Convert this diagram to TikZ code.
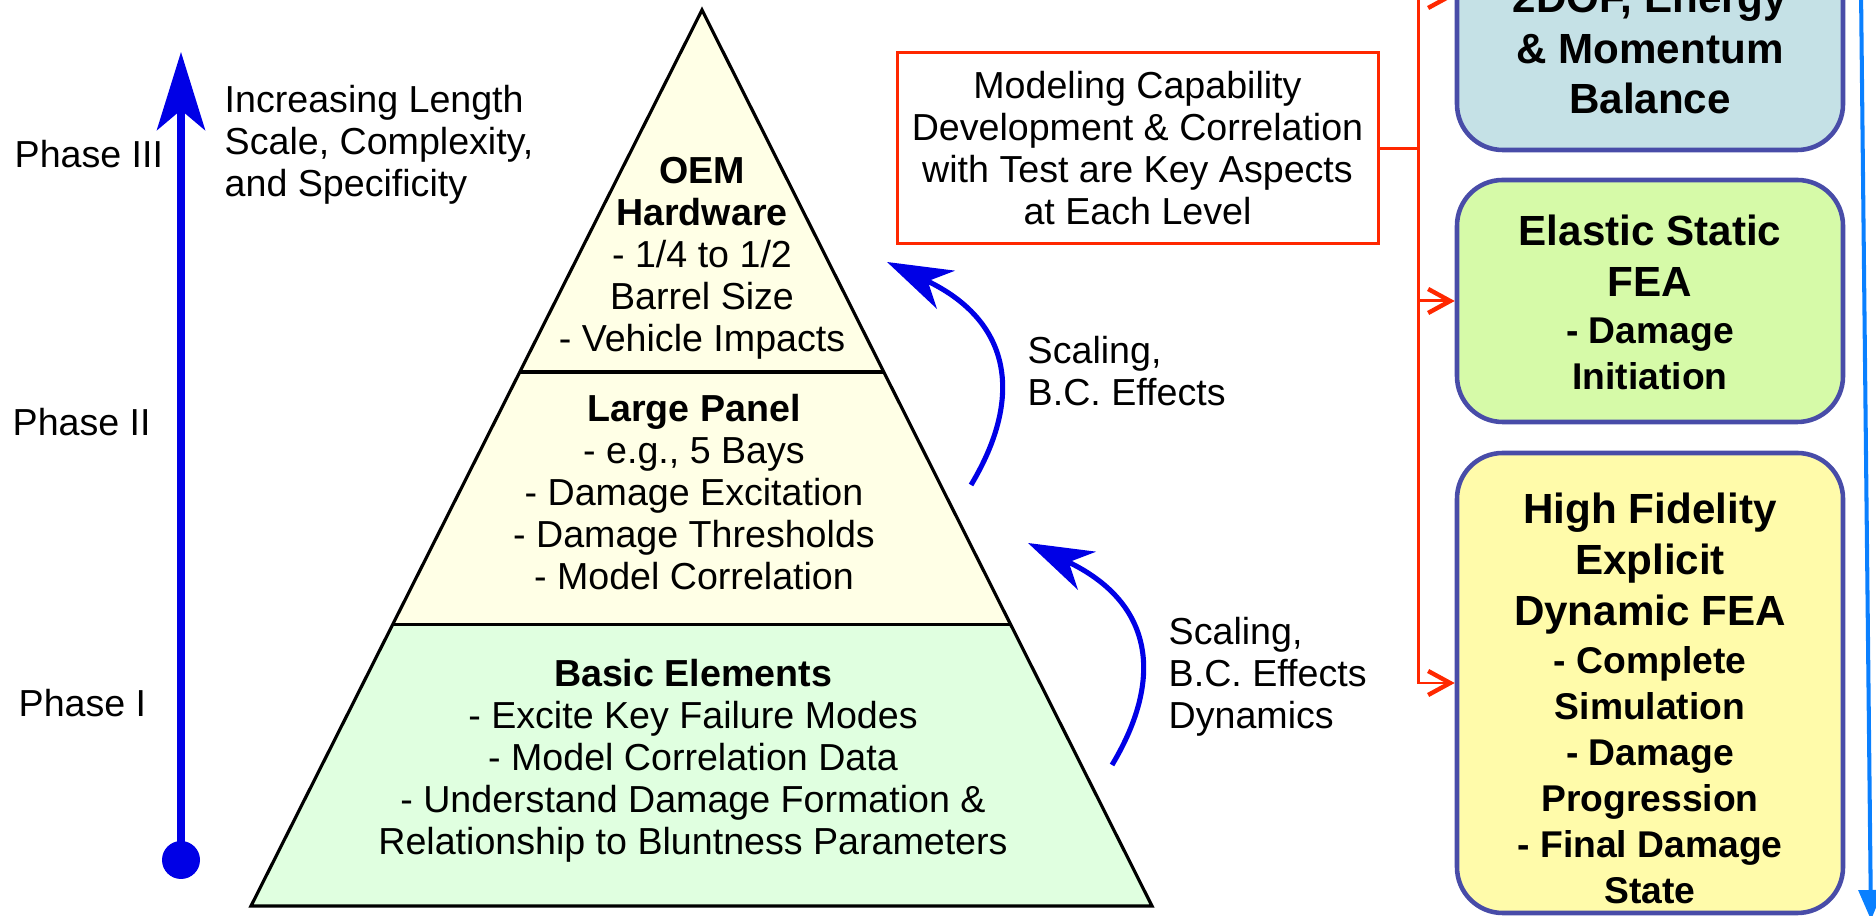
\documentclass[tikz,border=0pt]{standalone}
\usepackage{fontspec}
\setmainfont{Liberation Sans}
\usetikzlibrary{arrows.meta, calc}

\definecolor{PyrTop}{RGB}{255,255,230}
\definecolor{PyrBase}{RGB}{224,255,224}
\definecolor{PhaseBlue}{RGB}{0,0,230}
\definecolor{LinkRed}{RGB}{255,40,0}
\definecolor{FlowBlue}{RGB}{10,128,255}
\definecolor{BoxEdge}{RGB}{72,76,168}
\definecolor{BoxA}{RGB}{197,225,230}
\definecolor{BoxB}{RGB}{214,250,168}
\definecolor{BoxC}{RGB}{255,251,170}

\begin{document}
\begin{tikzpicture}[
  tier/.style={align=center, inner sep=0pt, font=\fontsize{10.7}{11.95}\selectfont},
  note/.style={align=left, inner sep=0pt, anchor=west, font=\fontsize{10.7}{11.95}\selectfont},
  phase/.style={inner sep=0pt, anchor=base west, font=\fontsize{10.7}{11.95}\selectfont},
  keybox/.style={draw=LinkRed, line width=0.85pt, minimum width=4.81cm,
                 minimum height=1.91cm, align=center, inner sep=0pt,
                 font=\fontsize{10.7}{11.95}\selectfont},
  simbox/.style={draw=BoxEdge, fill=#1, line width=1.3pt, rounded corners=13pt,
                 minimum width=3.86cm, inner sep=0pt},
  headtxt/.style={align=center, inner sep=0pt, font=\bfseries\fontsize{12}{14.5}\selectfont},
  subtxt/.style={align=center, inner sep=0pt, font=\bfseries\fontsize{10.6}{13.1}\selectfont},
  arr/.style={-{Stealth[length=6.5mm, width=4.2mm, inset=2mm]}, line width=1.45pt, draw=PhaseBlue},
  link/.style={-{Straight Barb[length=2.2mm, width=2.4mm, line width=1.25pt]},
               line width=0.85pt, draw=LinkRed}
]
\useasboundingbox (0,0) rectangle (18.76,-9.16);
\clip (0,0) rectangle (18.76,-9.16);

% Pyramid
\coordinate (apex) at (7.02,-0.10);
\coordinate (bl) at (2.51,-9.06);
\coordinate (br) at (11.52,-9.06);
\coordinate (ul) at ($(apex)!0.404!(bl)$);
\coordinate (ur) at ($(apex)!0.404!(br)$);
\coordinate (ml) at ($(apex)!0.686!(bl)$);
\coordinate (mr) at ($(apex)!0.686!(br)$);
\fill[PyrTop] (apex) -- (ml) -- (mr) -- cycle;
\fill[PyrBase] (ml) -- (bl) -- (br) -- (mr) -- cycle;
\draw[line width=0.9pt] (apex) -- (bl) -- (br) -- cycle;
\draw[line width=0.9pt] (ul) -- (ur) (ml) -- (mr);

\node[tier] (tierTop) at (7.02,-2.585)
  {\textbf{OEM}\\\textbf{Hardware}\\- 1/4 to 1/2\\Barrel Size\\- Vehicle Impacts};
\node[tier] (tierMid) at (6.94,-4.92)
  {\textbf{Large Panel}\\- e.g., 5 Bays\\- Damage Excitation\\- Damage Thresholds\\- Model Correlation};
\node[tier] (tierBase) at (6.93,-7.61)
  {\textbf{Basic Elements}\\- Excite Key Failure Modes\\- Model Correlation Data\\- Understand Damage Formation \&\\Relationship to Bluntness Parameters};

% Phase axis
\node[circle, fill=PhaseBlue, minimum size=3.8mm, inner sep=0pt] (phasedot) at (1.81,-8.60) {};
\coordinate (phasetop) at (1.81,-0.52);
\draw[PhaseBlue, line width=2.3pt, -{Stealth[length=7.8mm, width=4.8mm, inset=2mm]}]
  (phasedot.center) -- (phasetop);
\node[phase] (p3) at (0.14,-1.68) {Phase III};
\node[phase] (p2) at (0.12,-4.36) {Phase II};
\node[phase] (p1) at (0.18,-7.17) {Phase I};
\node[note] (trend) at (2.24,-1.445) {Increasing Length\\Scale, Complexity,\\and Specificity};

% Scaling arrows
\coordinate (sc1) at (9.71,-4.85);
\coordinate (tc1) at (8.87,-2.62);
\coordinate (sc2) at (11.12,-7.65);
\coordinate (tc2) at (10.28,-5.43);
\draw[arr] (sc1) .. controls +(0.54,0.90) and +(1.23,-0.58) .. (tc1);
\draw[arr] (sc2) .. controls +(0.54,0.90) and +(1.23,-0.58) .. (tc2);
\node[note] (sl1) at (10.27,-3.71) {Scaling,\\B.C. Effects};
\node[note] (sl2) at (11.68,-6.77) {Scaling,\\B.C. Effects\\Dynamics};

% Key note and simulation boxes
\node[keybox] (keynote) at (11.375,-1.485)
  {Modeling Capability\\Development \& Correlation\\with Test are Key Aspects\\at Each Level};

\node[simbox=BoxA, minimum height=3.08cm] (box1) at (16.50,0.04) {};
\node[simbox=BoxB, minimum height=2.42cm] (box2) at (16.50,-3.01) {};
\node[simbox=BoxC, minimum height=4.60cm] (box3) at (16.50,-6.83) {};

\node[headtxt] (h1) at (16.50,-0.485) {2DOF, Energy\\\& Momentum\\Balance};
\node[headtxt] (h2) at (16.50,-2.555) {Elastic Static\\FEA};
\node[subtxt]  (s2) at (16.50,-3.54)  {- Damage\\Initiation};
\node[headtxt] (h3) at (16.50,-5.635) {High Fidelity\\Explicit\\Dynamic FEA};
\node[subtxt]  (s3) at (16.50,-7.75)
  {- Complete\\Simulation\\- Damage\\Progression\\- Final Damage\\State};

% Red links
\coordinate (bus) at (14.18,-1.485);
\draw[LinkRed, line width=0.85pt] (keynote.east) -- (bus);
\draw[link] (bus) |- (box1.west);
\draw[link] (bus) |- (box2.west);
\draw[link] (bus) |- (box3.west);

% Flow line on the right
\coordinate (flowtop) at (18.61,0.10);
\coordinate (flowend) at (18.71,-9.20);
\draw[FlowBlue, line width=1.15pt, -{Triangle[length=3mm, width=2.4mm]}] (flowtop) -- (flowend);
\end{tikzpicture}
\end{document}
